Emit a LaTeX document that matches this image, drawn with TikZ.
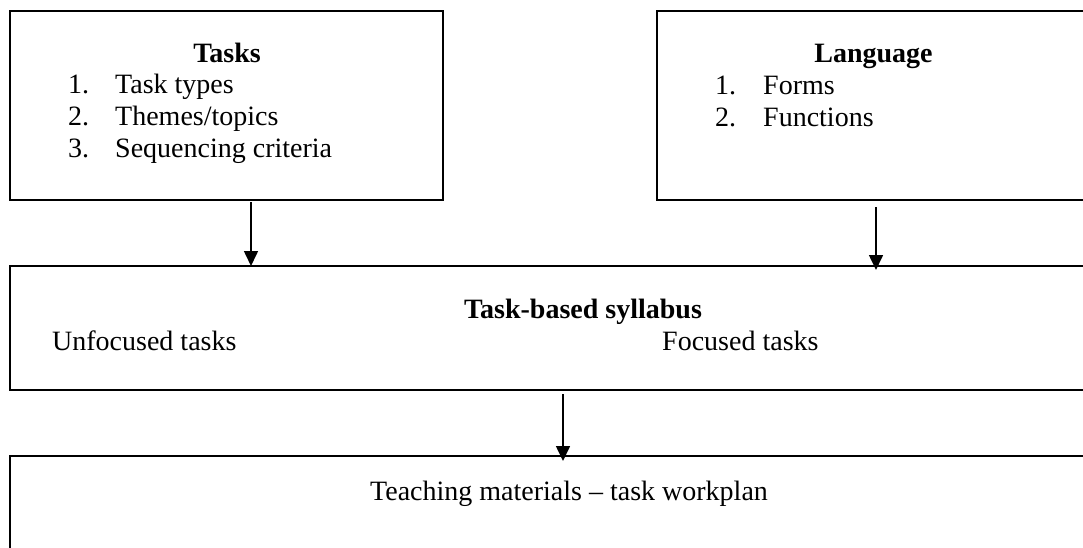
\documentclass[tikz,border=0pt]{standalone}
\usepackage{fontspec}
\setmainfont{Liberation Serif}
\usetikzlibrary{arrows.meta}
\begin{document}
\begin{tikzpicture}[x=1pt,y=-1pt,
  box/.style={draw,line width=1.6pt,inner sep=0pt,anchor=north west},
  txt/.style={inner sep=0pt,font=\fontsize{28}{32}\selectfont},
  arr/.style={line width=1.6pt,-{Triangle[width=14pt,length=15pt]}}]
\clip (0,0) rectangle (1083,548);
\fill[white] (0,0) rectangle (1083,548);
% boxes
\node[box,minimum width=433pt,minimum height=189pt] (tasks) at (9,10) {};
\node[box,minimum width=440pt,minimum height=189pt] (lang) at (656,10) {};
\node[box,minimum width=1085pt,minimum height=124pt] (syl) at (9,265) {};
\node[box,minimum width=1085pt,minimum height=110pt] (tm) at (9,455) {};
% Tasks text
\node[txt,anchor=base,font=\fontsize{28}{32}\selectfont\bfseries] (th) at (227,63) {Tasks};
\node[txt,anchor=base west] (tn1) at (68,94) {1.};
\node[txt,anchor=base west] (tt1) at (115,94) {Task types};
\node[txt,anchor=base west] (tn2) at (68,126) {2.};
\node[txt,anchor=base west] (tt2) at (115,126) {Themes/topics};
\node[txt,anchor=base west] (tn3) at (68,158) {3.};
\node[txt,anchor=base west] (tt3) at (115,158) {Sequencing criteria};
% Language text
\node[txt,anchor=base,font=\fontsize{28}{32}\selectfont\bfseries] (lh) at (873.5,63) {Language};
\node[txt,anchor=base west] (ln1) at (715,95) {1.};
\node[txt,anchor=base west] (lt1) at (763,95) {Forms};
\node[txt,anchor=base west] (ln2) at (715,127) {2.};
\node[txt,anchor=base west] (lt2) at (763,127) {Functions};
% Syllabus text
\node[txt,anchor=base,font=\fontsize{28}{32}\selectfont\bfseries] (sh) at (583,318) {Task-based syllabus};
\node[txt,anchor=base west] (su) at (52,350) {Unfocused tasks};
\node[txt,anchor=base west] (sf) at (662,350) {Focused tasks};
% Teaching materials text
\node[txt,anchor=base west] (tmt) at (370,500) {Teaching materials – task workplan};
% arrow end points
\coordinate (a1s) at (251,202); \coordinate (a1e) at (251,266);
\coordinate (a2s) at (876,207); \coordinate (a2e) at (876,270);
\coordinate (a3s) at (563,394); \coordinate (a3e) at (563,461);
\draw[arr] (a1s) -- (a1e);
\draw[arr] (a2s) -- (a2e);
\draw[arr] (a3s) -- (a3e);
\end{tikzpicture}
\end{document}
